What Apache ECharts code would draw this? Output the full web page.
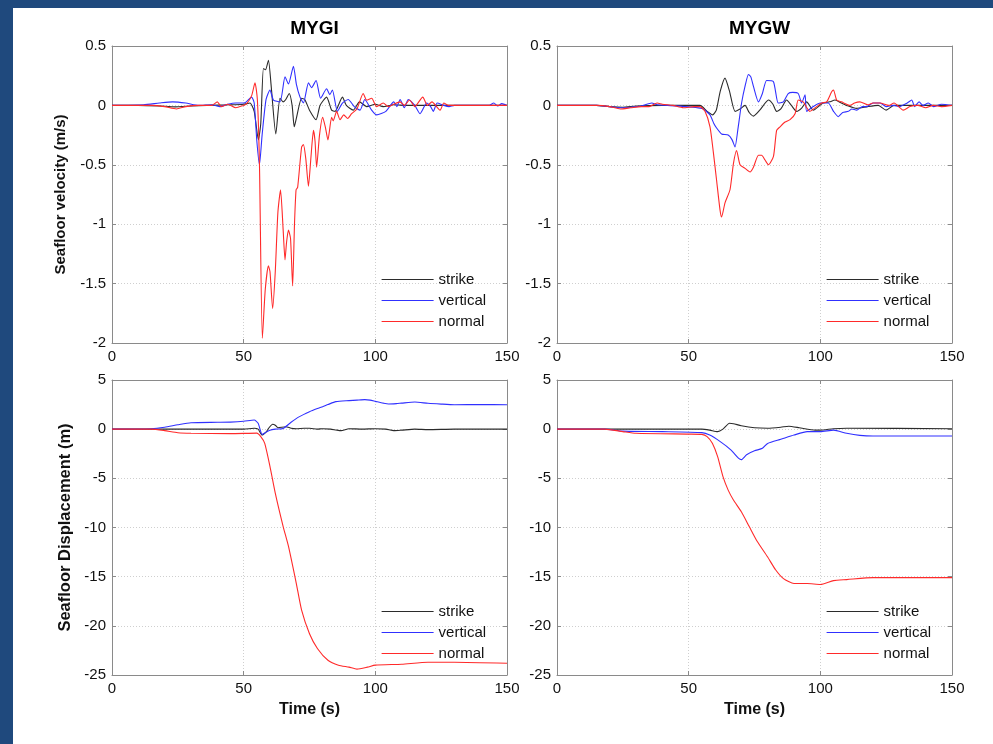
<!DOCTYPE html>
<html>
<head>
<meta charset="utf-8">
<script src="https://cdn.jsdelivr.net/npm/echarts@6/dist/echarts.min.js"></script>
<style>html,body{margin:0;padding:0;background:#fff;}#c{width:993px;height:744px;}</style>
</head>
<body>
<div id="c"></div>
<script>
// ---------- data ----------
const seriesNames = ['strike', 'vertical', 'normal'];
const panelTitles = ['MYGI', 'MYGW'];
const xTicks = [0, 50, 100, 150];
const velTicks = [-2, -1.5, -1, -0.5, 0, 0.5];
const dispTicks = [-25, -20, -15, -10, -5, 0, 5];

// MYGI seafloor velocity (m/s): [time s, value]
const mygiVelStrike = [[0,0],[10,0],[18,-0.005],[24,-0.012],[30,-0.005],[36,0],[45,0.005],[50,0.01],[52.4,0.02],[54,-0.05],[55.6,-0.29],[56.5,-0.15],[57.5,0.31],[58.3,0.30],[59.4,0.38],[60.5,0.15],[62.2,-0.24],[63.8,0.06],[65,0.03],[66,0.05],[67.3,0.10],[68.4,0.0],[69.2,-0.18],[70,-0.11],[72,0.06],[73.2,0.05],[75,-0.04],[77.5,-0.12],[79,0.0],[81.5,0.07],[83.4,-0.04],[84.7,-0.05],[87.5,0.07],[89,0.0],[91.6,-0.04],[94,0.03],[96.7,-0.01],[100,0.01],[103,-0.01],[107,0.005],[112,0],[150,0]];
const mygiVelVertical = [[0,0],[12,0.005],[18,0.02],[23,0.03],[28,0.02],[33,0],[38,0.005],[41,-0.01],[44,0.01],[47,0.02],[50,0.02],[51,0.03],[53,0.07],[54,0.02],[55,-0.3],[56,-0.5],[57,-0.25],[58.5,0.05],[60,0.13],[61.3,0.045],[63.8,0.03],[65.7,0.24],[67,0.18],[68.9,0.33],[70,0.18],[71.4,0.07],[72.7,0.02],[74.6,0.19],[75.8,0.15],[77.5,0.21],[79.2,0.06],[81.5,0.14],[82.7,0.09],[83.7,0.13],[85.6,-0.05],[87.5,0.02],[89.7,0.05],[92,-0.01],[94.2,-0.04],[96,0.05],[98.6,-0.04],[100.5,-0.08],[104,-0.05],[107,0.03],[108.2,-0.01],[109.4,0.05],[111,-0.02],[112.5,0.05],[115,0],[117,-0.07],[119.5,0.02],[121,-0.01],[122,-0.05],[123.5,0.02],[126,0.0],[128,-0.01],[130,0],[143,0],[145,0.02],[146.5,-0.005],[148,0.015],[150,0]];
const mygiVelNormal = [[0,0],[15,0],[20,-0.01],[24.5,-0.03],[28,-0.01],[33,0],[38,0],[40,0.03],[41.5,-0.01],[44,0.01],[47,-0.02],[50,0],[51,0.01],[53,0.08],[54.3,0.19],[55.2,0.05],[56,-0.5],[57.1,-1.96],[58.2,-1.55],[59.4,-1.35],[60,-1.4],[61,-1.71],[62,-1.4],[63,-0.9],[64,-0.71],[65,-1.05],[65.7,-1.30],[66.3,-1.15],[67,-1.05],[67.8,-1.12],[68.6,-1.52],[69.3,-1.0],[69.9,-0.71],[70.5,-0.69],[72,-0.35],[72.7,-0.33],[73.6,-0.45],[74.6,-0.68],[75.5,-0.45],[76.5,-0.21],[77.1,-0.30],[77.7,-0.52],[78.8,-0.25],[80,-0.10],[81,-0.18],[82,-0.29],[83.4,-0.10],[84,-0.13],[85.3,-0.05],[86.6,-0.12],[88,-0.08],[89.5,-0.11],[91,-0.07],[93,-0.03],[95.4,0.10],[96.7,0.045],[98.6,0.06],[100.5,-0.01],[103,0.02],[105,-0.01],[107,0.01],[109.4,0.03],[111,0],[113,0.045],[115,-0.01],[118,0.07],[119.8,0.0],[121.5,0.03],[124.6,-0.04],[126,0.02],[127.7,0.0],[130,0],[150,0]];

// MYGW seafloor velocity (m/s)
const mygwVelStrike = [[0,0],[15,0],[20,-0.01],[25,-0.015],[30,-0.005],[40,0],[54.3,0],[57,-0.05],[59.1,-0.08],[60.5,-0.04],[62,0.12],[63.8,0.23],[65.5,0.12],[67.6,-0.05],[69.5,-0.03],[71.4,0],[73,-0.06],[74.6,-0.09],[77,-0.04],[80.3,0.045],[82,0.01],[83.4,-0.05],[85,-0.03],[87.2,0.045],[89,0.0],[91,-0.05],[93,-0.02],[94.8,0.03],[97.3,-0.04],[101,0.02],[103.5,0.03],[105.6,0.045],[108,0.02],[110,0],[113.8,-0.025],[118,-0.01],[122,0],[125,-0.04],[128,0.0],[150,0]];
const mygwVelVertical = [[0,0],[15,0],[20,-0.01],[24,-0.02],[28,-0.015],[32,-0.005],[36,0.02],[38,0.005],[42,0],[55,-0.025],[58.1,-0.08],[59.5,-0.15],[60.6,-0.19],[62.5,-0.24],[65,-0.25],[66.5,-0.29],[67.6,-0.35],[68.7,-0.2],[70.1,0.02],[71.5,0.17],[72.7,0.26],[73.6,0.24],[74.6,0.16],[76.5,0.03],[78,0.1],[79.6,0.21],[82.2,0.20],[84,0.02],[86,0.03],[87.8,0.10],[89.5,0.11],[91.6,0.10],[92.9,0.02],[94.2,0.09],[94.8,-0.05],[97.3,-0.01],[100,0.02],[103,0.02],[105,-0.05],[106.8,-0.095],[108.5,-0.06],[110.6,-0.05],[112,-0.03],[113.8,-0.04],[116,-0.01],[117.6,-0.01],[120,0.02],[122.7,0.02],[125,-0.01],[127.7,0],[130,-0.01],[133,0.02],[134.7,0.045],[135.8,-0.01],[137.5,0.03],[139,0],[141,0.02],[143,-0.01],[146,0.01],[150,0]];
const mygwVelNormal = [[0,0],[15,0],[20,-0.01],[24,-0.03],[28,-0.02],[32,-0.01],[35,-0.01],[38,0.02],[40,0.01],[44,0],[48,-0.02],[52,-0.01],[54.3,-0.01],[56.2,-0.05],[58.1,-0.18],[59.4,-0.40],[60.6,-0.63],[61.9,-0.88],[62.5,-0.94],[63.8,-0.82],[65.7,-0.71],[67,-0.49],[68.2,-0.38],[69.5,-0.50],[71.4,-0.53],[73.3,-0.56],[74.6,-0.52],[76.5,-0.42],[77.7,-0.42],[79,-0.46],[80.3,-0.50],[82.2,-0.43],[83.4,-0.21],[84.7,-0.18],[86.6,-0.14],[88.5,-0.12],[90.4,-0.07],[91.6,0.045],[93.5,0.03],[96,-0.05],[98.6,-0.01],[100.5,0.02],[102.4,0.03],[104.3,0.115],[105,0.13],[106.2,0.045],[108,0.03],[111.3,0],[113,0.02],[115,0.03],[118,0.005],[120,0.02],[122.7,0.02],[126,0],[128,0.02],[131.5,-0.04],[134,-0.01],[137,0],[140,-0.02],[143,0],[146,-0.01],[150,0]];

// MYGI seafloor displacement (m)
const mygiDispStrike = [[0,0],[50,0],[54,0.1],[55.5,0],[57,-0.6],[58.5,-0.3],[59.5,0.1],[61,0.5],[62,0.4],[63,0.15],[66,0.25],[68,0.1],[70,0.05],[73,0.1],[75,0.1],[78,0],[80,0.05],[83,0],[85,-0.08],[87,-0.15],[90,0.05],[95,0],[100,0.05],[104,0],[107,-0.15],[110,-0.1],[115,0],[120,-0.05],[130,0],[150,0]];
const mygiDispVertical = [[0,0],[15,0.05],[20,0.2],[25,0.45],[30,0.66],[40,0.7],[45,0.72],[50,0.8],[54,0.93],[55.5,0.6],[57,-0.53],[58.5,-0.3],[60,-0.1],[62,0.0],[65,0.08],[68,0.7],[71,1.25],[75,1.78],[78,2.1],[80,2.29],[82,2.5],[85,2.8],[90,2.9],[93,2.95],[96,3.0],[98,2.95],[100,2.83],[103,2.65],[105,2.56],[108,2.6],[110,2.65],[115,2.76],[120,2.63],[125,2.55],[130,2.49],[140,2.5],[150,2.49]];
const mygiDispNormal = [[0,0],[15,0],[20,-0.15],[25,-0.36],[30,-0.42],[45,-0.45],[55,-0.4],[56.5,-0.76],[58,-1.44],[60,-3.8],[62,-6.5],[65,-9.9],[67,-11.9],[70,-15.7],[72,-18.4],[75,-20.8],[78,-22.3],[82,-23.5],[86,-24.0],[90,-24.2],[93,-24.4],[97,-24.2],[100,-24.0],[110,-23.9],[120,-23.7],[130,-23.7],[150,-23.8]];

// MYGW seafloor displacement (m)
const mygwDispStrike = [[0,0],[55,0],[58,-0.1],[61,-0.25],[63,0.0],[65.5,0.6],[67,0.55],[70,0.35],[75,0.15],[80,0.1],[85,0.2],[88,0.3],[92,0.15],[98,-0.1],[100,-0.1],[105,0.05],[110,0.1],[150,0.05]];
const mygwDispVertical = [[0,0],[18,0],[25,-0.2],[40,-0.25],[55,-0.35],[58,-0.6],[62,-1.27],[66,-2.1],[69,-2.97],[70,-3.1],[72,-2.6],[75,-2.2],[78,-1.95],[80,-1.45],[85,-1.03],[90,-0.6],[95,-0.25],[100,-0.25],[105,-0.1],[110,-0.42],[115,-0.63],[120,-0.7],[150,-0.7]];
const mygwDispNormal = [[0,0],[18,0],[25,-0.25],[30,-0.42],[50,-0.5],[55,-0.53],[57,-0.76],[59,-1.44],[61,-2.8],[63,-4.8],[65,-6.2],[67,-7.2],[70,-8.4],[73,-9.9],[76,-11.4],[80,-13.0],[83,-14.3],[86,-15.2],[90,-15.7],[95,-15.7],[100,-15.8],[105,-15.4],[110,-15.3],[120,-15.1],[150,-15.1]];

// ---------- layout / style ----------
const FONT = 'Liberation Sans, Arial, sans-serif';
const colors = ['#2b2b2b', '#3030ff', '#ff2a2a'];
const boxColor = '#8a8a8a';
const grids = [
  { left: 112, top: 46, width: 395, height: 297 },
  { left: 557, top: 46, width: 395, height: 297 },
  { left: 112, top: 380, width: 395, height: 295 },
  { left: 557, top: 380, width: 395, height: 295 }
];
const legendOffsets = [[264, 221], [264, 221], [264, 219], [264, 219]];
const panelData = [
  [mygiVelStrike, mygiVelVertical, mygiVelNormal],
  [mygwVelStrike, mygwVelVertical, mygwVelNormal],
  [mygiDispStrike, mygiDispVertical, mygiDispNormal],
  [mygwDispStrike, mygwDispVertical, mygwDispNormal]
];

const xAxis = [], yAxis = [], series = [], legend = [];
grids.forEach((g, i) => {
  const isVel = i < 2;
  const ticks = isVel ? velTicks : dispTicks;
  const yMin = ticks[0], yMax = ticks[ticks.length - 1];
  const yInt = ticks[1] - ticks[0];
  const isLeft = (i % 2) === 0;
  const isBottom = i >= 2;
  xAxis.push({
    type: 'value', gridIndex: i, min: xTicks[0], max: xTicks[xTicks.length - 1], interval: 50,
    position: 'bottom',
    axisLine: { show: true, onZero: false, lineStyle: { color: boxColor, width: 1 } },
    axisTick: { show: true, inside: true, length: 4, lineStyle: { color: boxColor } },
    axisLabel: { color: '#111', fontSize: 15, fontFamily: FONT, margin: 6 },
    splitLine: { show: true, lineStyle: { color: '#cfcfcf', type: [1, 2], width: 1 } },
    name: isBottom ? 'Time (s)' : '', nameLocation: 'middle', nameGap: 27,
    nameTextStyle: { color: '#111', fontSize: 16, fontWeight: 'bold', fontFamily: FONT }
  });
  xAxis.push({
    type: 'value', gridIndex: i, min: xTicks[0], max: xTicks[xTicks.length - 1], interval: 50,
    position: 'top',
    axisLine: { show: true, onZero: false, lineStyle: { color: boxColor, width: 1 } },
    axisTick: { show: true, inside: true, length: 4, lineStyle: { color: boxColor } },
    axisLabel: { show: false }, splitLine: { show: false }
  });
  yAxis.push({
    type: 'value', gridIndex: i, min: yMin, max: yMax, interval: yInt,
    position: 'left',
    axisLine: { show: true, onZero: false, lineStyle: { color: boxColor, width: 1 } },
    axisTick: { show: true, inside: true, length: 4, lineStyle: { color: boxColor } },
    axisLabel: { color: '#111', fontSize: 15, fontFamily: FONT, margin: 6 },
    splitLine: { show: true, lineStyle: { color: '#cfcfcf', type: [1, 2], width: 1 } },
    name: isLeft ? (isVel ? 'Seafloor velocity (m/s)' : 'Seafloor Displacement (m)') : '',
    nameLocation: 'middle', nameGap: isVel ? 44 : 38,
    nameTextStyle: { color: '#111', fontSize: isVel ? 15 : 16.5, fontWeight: 'bold', fontFamily: FONT }
  });
  yAxis.push({
    type: 'value', gridIndex: i, min: yMin, max: yMax, interval: yInt,
    position: 'right',
    axisLine: { show: true, onZero: false, lineStyle: { color: boxColor, width: 1 } },
    axisTick: { show: true, inside: true, length: 4, lineStyle: { color: boxColor } },
    axisLabel: { show: false }, splitLine: { show: false }
  });
  panelData[i].forEach((d, k) => {
    series.push({
      type: 'line', name: seriesNames[k], xAxisIndex: i * 2, yAxisIndex: i * 2,
      data: d, symbol: 'none', smooth: 0.2, animation: false,
      lineStyle: { color: colors[k], width: 1.1 }, itemStyle: { color: colors[k] }, z: 2 + k
    });
  });
  legend.push({
    orient: 'vertical', left: g.left + legendOffsets[i][0], top: g.top + legendOffsets[i][1],
    itemWidth: 52, itemHeight: 14, itemGap: 6, itemTextGap: 5, selectedMode: false,
    data: seriesNames,
    itemStyle: { opacity: 0 }, lineStyle: { width: 1.2 },
    textStyle: { color: '#111', fontSize: 15, fontFamily: FONT }
  });
});

const option = {
  backgroundColor: '#ffffff',
  animation: false,
  title: panelTitles.map((t, i) => ({
    text: t, left: grids[i].left + grids[i].width / 2, top: 14, textAlign: 'center',
    textStyle: { color: '#000', fontSize: 19, fontWeight: 'bold', fontFamily: FONT }
  })),
  grid: grids.map(g => Object.assign({ containLabel: false }, g)),
  xAxis, yAxis, series, legend,
  graphic: [
    { type: 'rect', shape: { x: 0, y: 0, width: 993, height: 8 }, style: { fill: '#1f497d' }, silent: true },
    { type: 'rect', shape: { x: 0, y: 0, width: 13, height: 744 }, style: { fill: '#1f497d' }, silent: true }
  ]
};
const chart = echarts.init(document.getElementById('c'), null, { renderer: 'canvas' });
chart.setOption(option);
</script>
</body>
</html>
